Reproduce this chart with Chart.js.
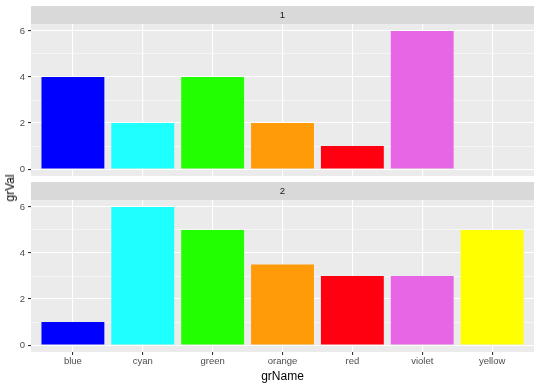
<!DOCTYPE html>
<html>
<head>
<meta charset="utf-8">
<script src="https://cdn.jsdelivr.net/npm/chart.js@4"></script>
<style>
  body { margin: 0; background: #fff; }
  #wrap { position: relative; width: 540px; height: 386px; font-family: "Liberation Sans", Arial, sans-serif; }
  canvas { position: absolute; left: 0; }
  #ylab { position: absolute; left: 10px; top: 188px; transform: translate(-50%, -50%) rotate(-90deg); font-size: 12px; color: #000; white-space: nowrap; }
</style>
</head>
<body>
<div id="wrap">
  <canvas id="top" width="540" height="180" style="top:0"></canvas>
  <canvas id="bottom" width="540" height="206" style="top:180px"></canvas>
  <div id="ylab">grVal</div>
</div>
<script>
// data
const categories = ['blue', 'cyan', 'green', 'orange', 'red', 'violet', 'yellow'];
const panelNames = ['1', '2'];
const values1 = [4, 2, 4, 2, 1, 6, null];
const values2 = [1, 6, 5, 3.5, 3, 3, 5];
const yTicks = [0, 2, 4, 6];

const barColors = ['#0000FF', '#1EFFFF', '#22FF00', '#FF9A08', '#FF0010', '#E766E6', '#FFFF00'];
const font = '"Liberation Sans", Arial, sans-serif';

// grey panel + facet strip
const panelPlugin = {
  id: 'panel',
  beforeDraw(chart, args, opts) {
    const a = chart.chartArea, c = chart.ctx;
    c.save();
    c.fillStyle = '#EBEBEB';
    c.fillRect(a.left, a.top, a.right - a.left, a.bottom - a.top);
    c.fillStyle = '#D9D9D9';
    c.fillRect(a.left, a.top - 18, a.right - a.left, 18);
    c.fillStyle = '#1A1A1A';
    c.font = '9.5px ' + font;
    c.textAlign = 'center';
    c.textBaseline = 'middle';
    c.fillText(opts.label, (a.left + a.right) / 2, a.top - 9);
    c.restore();
  }
};

function makePanel(id, values, label, showX) {
  const pts = values.map((v, i) => ({ x: i + 1, y: v }));
  return new Chart(document.getElementById(id), {
    type: 'bar',
    data: {
      datasets: [{
        data: pts,
        backgroundColor: barColors,
        borderWidth: 0,
        categoryPercentage: 1,
        barPercentage: 0.9
      }]
    },
    options: {
      responsive: false,
      animation: false,
      events: [],
      layout: { padding: { top: showX ? 20 : 24, right: 6, bottom: showX ? 0 : 4, left: 0 } },
      plugins: {
        legend: { display: false },
        tooltip: { enabled: false },
        panel: { label: label }
      },
      scales: {
        x: {
          type: 'linear',
          min: 0.4,
          max: 7.6,
          offset: false,
          afterBuildTicks: s => { s.ticks = categories.map((c, i) => ({ value: i + 1 })); },
          afterFit: s => { s.height = showX ? 34 : 0; s.paddingLeft = 0; s.paddingRight = 0; },
          border: { display: false },
          grid: {
            offset: false,
            color: '#FFFFFF',
            lineWidth: 1.1,
            drawTicks: showX,
            tickLength: 3,
            tickColor: '#333333',
            tickWidth: 1.1
          },
          ticks: {
            display: showX,
            padding: 1,
            maxRotation: 0,
            autoSkip: false,
            color: '#4D4D4D',
            font: { family: font, size: 9.5 },
            callback: v => categories[v - 1]
          },
          title: {
            display: showX,
            text: 'grName',
            color: '#000',
            font: { family: font, size: 12 },
            padding: { top: 0, bottom: 2 }
          }
        },
        y: {
          min: -0.3,
          max: 6.3,
          afterBuildTicks: s => { s.ticks = [0, 1, 2, 3, 4, 5, 6].map(v => ({ value: v })); },
          afterFit: s => { s.width = 31; s.paddingTop = 0; s.paddingBottom = 0; },
          border: { display: false },
          grid: {
            color: '#FFFFFF',
            lineWidth: c => yTicks.includes(c.tick.value) ? 1.1 : 0.55,
            tickLength: 3,
            tickColor: c => yTicks.includes(c.tick.value) ? '#333333' : 'rgba(0,0,0,0)',
            tickWidth: 1.1
          },
          ticks: {
            padding: 3,
            autoSkip: false,
            color: '#4D4D4D',
            font: { family: font, size: 9.5 },
            callback: v => yTicks.includes(v) ? String(v) : ''
          }
        }
      }
    },
    plugins: [panelPlugin]
  });
}

makePanel('top', values1, panelNames[0], false);
makePanel('bottom', values2, panelNames[1], true);
</script>
</body>
</html>
